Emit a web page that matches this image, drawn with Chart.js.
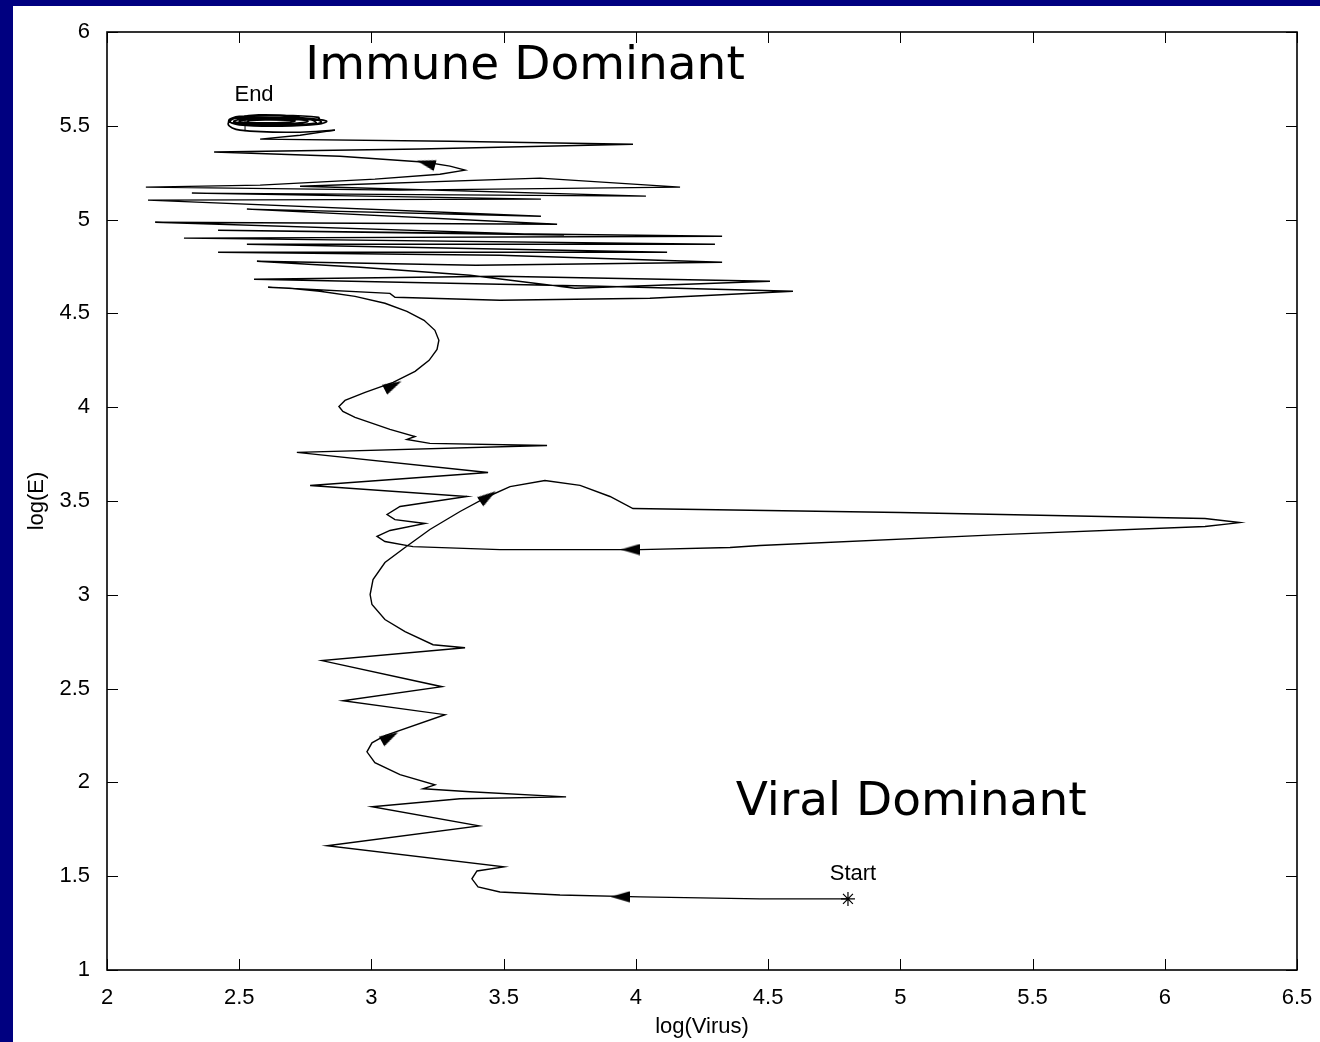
<!DOCTYPE html>
<html>
<head>
<meta charset="utf-8">
<script src="https://cdn.jsdelivr.net/npm/chart.js"></script>
<style>
  html, body { margin: 0; padding: 0; background: #000080; overflow: hidden; }
  #panel { position: absolute; left: 13px; top: 6px; width: 1307px; height: 1036px; background: #fff; }
</style>
</head>
<body>
<div id="panel"><canvas id="phase" width="1307" height="1036"></canvas></div>
<script>
// trajectory in (log Virus, log E) space, start -> entry into the end orbit
var pathX = [4.802,4.469,4.016,3.713,3.486,3.403,3.380,3.399,3.501,2.832,
  3.407,3.002,3.335,3.736,3.373,3.195,3.240,3.108,3.013,2.983,
  3.002,3.051,3.278,2.892,3.267,2.813,3.354,3.233,3.127,3.051,
  3.002,2.995,3.006,3.051,3.127,3.221,3.335,3.441,3.524,3.656,
  3.789,3.902,3.989,4.999,6.152,6.284,6.152,5.377,4.469,4.356,
  4.016,3.486,3.157,3.051,3.021,3.070,3.203,3.089,3.059,3.108,
  3.361,2.768,3.441,2.718,3.664,3.221,3.134,3.165,3.070,2.938,
  2.892,2.877,2.900,2.976,3.082,3.165,3.218,3.248,3.255,3.240,
  3.199,3.134,3.051,2.938,2.805,2.692,2.609,
  3.070,3.089,3.486,4.053,4.594,3.864,3.108,2.556,
  3.486,4.507,3.770,3.373,2.957,2.567,3.395,4.326,3.486,2.420,
  4.118,2.529,4.299,2.291,4.326,2.420,3.728,2.182,3.702,2.529,
  3.641,2.155,3.641,2.321,4.038,2.730,3.637,4.167,3.108,2.147,
  2.579,3.013,3.259,3.354,3.297,3.206,2.881,2.405,3.184,3.989,
  3.297,2.579,2.730,2.862];
var pathY = [1.379,1.379,1.390,1.400,1.416,1.443,1.486,1.528,1.550,1.662,
  1.768,1.870,1.913,1.923,1.950,1.966,1.987,2.041,2.105,2.163,
  2.211,2.249,2.361,2.435,2.510,2.649,2.718,2.734,2.804,2.868,
  2.948,3.001,3.081,3.172,3.252,3.348,3.444,3.524,3.577,3.609,
  3.583,3.524,3.460,3.439,3.407,3.385,3.364,3.321,3.263,3.252,
  3.241,3.241,3.257,3.284,3.311,3.343,3.380,3.401,3.428,3.471,
  3.524,3.583,3.652,3.759,3.796,3.807,3.828,3.844,3.882,3.946,
  3.978,4.004,4.036,4.079,4.132,4.191,4.250,4.308,4.357,4.410,
  4.463,4.511,4.554,4.591,4.618,4.634,4.639,
  4.607,4.586,4.570,4.581,4.618,4.645,4.666,4.682,
  4.698,4.671,4.634,4.703,4.746,4.778,4.757,4.773,4.810,4.826,
  4.826,4.869,4.869,4.901,4.911,4.943,4.917,4.986,4.975,5.056,
  5.018,5.104,5.109,5.141,5.125,5.178,5.221,5.173,5.157,5.173,
  5.184,5.216,5.242,5.264,5.285,5.306,5.338,5.360,5.376,5.402,
  5.418,5.429,5.450,5.477];

// closing orbit around the end state
var orbitX = [2.862,2.730,2.503,2.458,2.495,2.654,2.798,
  2.800,2.660,2.500,2.460,2.500,2.660,2.800,2.830,2.740,2.580,2.470,2.470,
  2.560,2.720,2.810,2.780,2.620,2.490,2.460,2.520,2.680,2.790,2.770,2.640,
  2.510,2.480,2.550,2.700,2.760,2.680,2.550,2.500,2.560,2.680,2.710,2.620,
  2.540,2.522];
var orbitY = [5.477,5.466,5.477,5.509,5.546,5.557,5.530,
  5.545,5.556,5.550,5.528,5.505,5.498,5.508,5.525,5.542,5.548,5.536,5.515,
  5.502,5.503,5.518,5.536,5.546,5.540,5.522,5.508,5.506,5.515,5.532,5.541,
  5.537,5.522,5.512,5.512,5.524,5.535,5.534,5.524,5.516,5.518,5.526,5.531,
  5.527,5.514];

// direction arrows along the path (heading in degrees, screen space)
var arrowX = [3.940, 3.070, 3.441, 3.978, 3.082, 3.206];
var arrowY = [1.390, 2.243, 3.524, 3.241, 4.116, 5.301];
var arrowDir = [180, -29, -34, 180, -27, 195];

var startPoint = [4.802, 1.379];
var endPoint = [2.522, 5.514];

function toPoints(xs, ys) {
  return xs.map(function (x, i) { return { x: x, y: ys[i] }; });
}

// filled arrowhead pointing along +x
function arrowHead() {
  var c = document.createElement('canvas');
  c.width = 19; c.height = 12;
  var g = c.getContext('2d');
  g.fillStyle = '#000';
  g.beginPath();
  g.moveTo(19, 6); g.lineTo(0, 0.5); g.lineTo(0, 11.5);
  g.closePath(); g.fill();
  return c;
}

// box around the plot with inward ticks on all four sides
var framePlugin = {
  id: 'frame',
  afterDatasetsDraw: function (chart) {
    var ctx = chart.ctx, a = chart.chartArea;
    var xs = chart.scales.x, ys = chart.scales.y;
    var len = 11;
    ctx.save();
    ctx.strokeStyle = '#000';
    ctx.lineWidth = 1;
    ctx.beginPath();
    xs.ticks.forEach(function (t) {
      var p = Math.round(xs.getPixelForValue(t.value)) + 0.5;
      ctx.moveTo(p, a.bottom); ctx.lineTo(p, a.bottom - len);
      ctx.moveTo(p, a.top); ctx.lineTo(p, a.top + len);
    });
    ys.ticks.forEach(function (t) {
      var p = Math.round(ys.getPixelForValue(t.value)) + 0.5;
      ctx.moveTo(a.left, p); ctx.lineTo(a.left + len, p);
      ctx.moveTo(a.right, p); ctx.lineTo(a.right - len, p);
    });
    ctx.stroke();
    ctx.lineWidth = 1.6;
    ctx.strokeRect(a.left, a.top, a.right - a.left, a.bottom - a.top);
    ctx.restore();
  }
};

// region names and start / end labels
var notesPlugin = {
  id: 'notes',
  afterDraw: function (chart) {
    var ctx = chart.ctx, xs = chart.scales.x, ys = chart.scales.y;
    function put(text, x, y, font) {
      ctx.font = font;
      ctx.fillText(text, xs.getPixelForValue(x), ys.getPixelForValue(y));
    }
    ctx.save();
    ctx.fillStyle = '#000';
    ctx.textAlign = 'center';
    ctx.textBaseline = 'middle';
    put('Immune Dominant', 3.581, 5.813, '47px "DejaVu Sans"');
    put('Viral Dominant', 5.041, 1.891, '47px "DejaVu Sans"');
    put('End', 2.556, 5.664, '22px "Liberation Sans"');
    put('Start', 4.821, 1.512, '22px "Liberation Sans"');
    ctx.restore();
  }
};

var tickFont = { family: '"Liberation Sans", Arial, sans-serif', size: 22 };
function plainTick(v) { return String(Number(v.toFixed(1))); }

new Chart(document.getElementById('phase').getContext('2d'), {
  type: 'scatter',
  data: {
    datasets: [
      {
        data: toPoints(pathX, pathY),
        showLine: true,
        borderColor: '#000',
        borderWidth: 1.4,
        pointRadius: 0,
        tension: 0
      },
      {
        data: toPoints(orbitX, orbitY),
        showLine: true,
        borderColor: '#000',
        borderWidth: 1.6,
        pointRadius: 0,
        tension: 0.4
      },
      {
        data: toPoints(arrowX, arrowY),
        pointStyle: arrowHead(),
        pointRotation: arrowDir,
        pointRadius: 9,
        showLine: false
      },
      {
        data: [{ x: startPoint[0], y: startPoint[1] }],
        pointStyle: 'star',
        pointRadius: 7,
        borderColor: '#000',
        borderWidth: 1.2
      },
      {
        data: [{ x: endPoint[0], y: endPoint[1] }],
        pointStyle: 'cross',
        pointRadius: 8,
        borderColor: '#000',
        borderWidth: 1
      }
    ]
  },
  options: {
    responsive: false,
    animation: false,
    devicePixelRatio: 1,
    layout: { padding: { top: 26, right: 23, left: 0, bottom: 0 } },
    plugins: { legend: { display: false }, tooltip: { enabled: false } },
    scales: {
      x: {
        type: 'linear', min: 2, max: 6.5,
        grid: { display: false }, border: { display: false },
        ticks: { stepSize: 0.5, color: '#000', font: tickFont, padding: 7, maxRotation: 0, callback: plainTick },
        title: { display: true, text: 'log(Virus)', color: '#000', font: tickFont, padding: { top: 0, bottom: 2 } },
        afterFit: function (s) { s.height = 72; }
      },
      y: {
        type: 'linear', min: 1, max: 6,
        grid: { display: false }, border: { display: false },
        ticks: { stepSize: 0.5, color: '#000', font: tickFont, padding: 9, callback: plainTick },
        title: { display: true, text: 'log(E)', color: '#000', font: tickFont, padding: { top: 11, bottom: 0 } },
        afterFit: function (s) { s.width = 94; }
      }
    }
  },
  plugins: [framePlugin, notesPlugin]
});
</script>
</body>
</html>
